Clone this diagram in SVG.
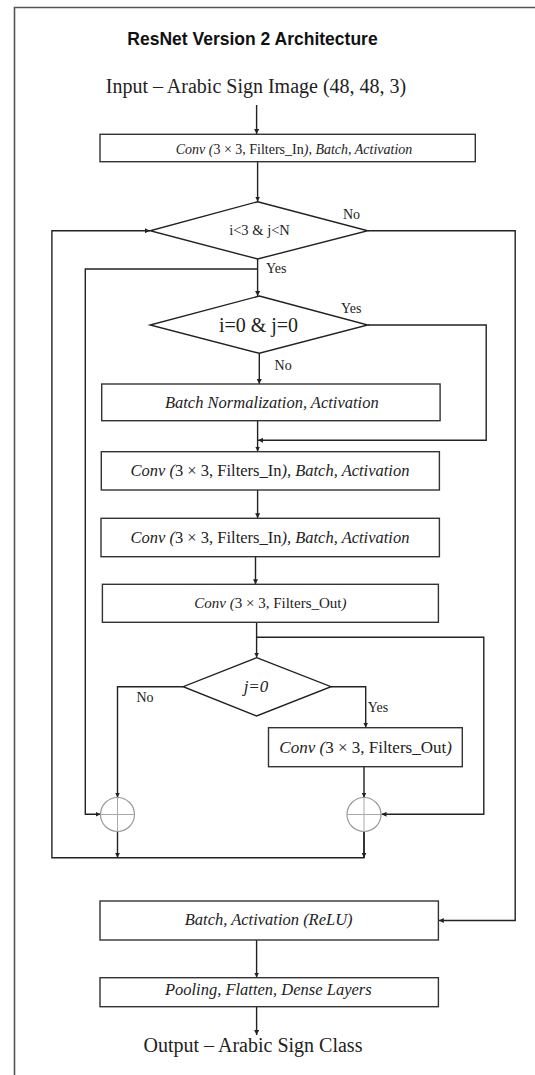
<svg xmlns="http://www.w3.org/2000/svg" width="535" height="1075" viewBox="0 0 535 1075">
<style>
.box{fill:#fff;stroke:#333;stroke-width:1.4}
.dia{fill:#fff;stroke:#222;stroke-width:1.4}
.ln{fill:none;stroke:#222;stroke-width:1.4}
.frame{fill:none;stroke:#555;stroke-width:1.6}
.sum{fill:#fff;stroke:#999;stroke-width:1.2}
.cross{stroke:#aaa;stroke-width:1}
.t{font-family:"Liberation Serif","Times New Roman",serif;fill:#222;text-anchor:middle}
.i{font-style:italic}
.lbl{font-family:"Liberation Serif","Times New Roman",serif;fill:#222;font-size:14px}
</style>
<defs>
<marker id="ah" markerUnits="userSpaceOnUse" markerWidth="6" markerHeight="5" refX="5" refY="2.5" orient="auto">
<path d="M0,0 L5,2.5 L0,5 z" fill="#222"/>
</marker>
</defs>
<rect x="0" y="0" width="535" height="1075" fill="#fff"/>
<path class="frame" d="M14.5,1075 V7.5 H535"/>
<text x="252.5" y="45" font-family="'Liberation Sans',Arial,sans-serif" font-weight="bold" font-size="17.5" fill="#111" text-anchor="middle">ResNet Version 2 Architecture</text>
<text id="input" class="t" x="256" y="93" font-size="20">Input – Arabic Sign Image (48, 48, 3)</text>

<g id="connectors">
<path class="ln" d="M256.6,105 V134" marker-end="url(#ah)"/>
<path class="ln" d="M257.6,161.7 V201.5" marker-end="url(#ah)"/>
<path class="ln" d="M257.6,259 V296" marker-end="url(#ah)"/>
<path class="ln" d="M257.6,269 H85.3 V814.3 H100.5" marker-end="url(#ah)"/>
<path class="ln" d="M367.8,230.7 H515.2 V920.5 H438.8" marker-end="url(#ah)"/>
<path class="ln" d="M364,831.5 V857.7 H51.9 V230.7 H150" marker-end="url(#ah)"/>
<path class="ln" d="M117.5,831.5 V857.7" marker-end="url(#ah)"/>
<path class="ln" d="M364,831.5 V857.7" marker-end="url(#ah)"/>
<path class="ln" d="M259.3,353.3 V384" marker-end="url(#ah)"/>
<path class="ln" d="M367.8,325 H486.2 V440.3 H258" marker-end="url(#ah)"/>
<path class="ln" d="M257.6,421 V451.5" marker-end="url(#ah)"/>
<path class="ln" d="M257.6,490 V518.2" marker-end="url(#ah)"/>
<path class="ln" d="M255.5,556.7 V584.2" marker-end="url(#ah)"/>
<path class="ln" d="M256.6,622.3 V657.5" marker-end="url(#ah)"/>
<path class="ln" d="M256.6,637.3 H483.8 V814.3 H381.5" marker-end="url(#ah)"/>
<path class="ln" d="M183.2,686.7 H117.5 V797.5" marker-end="url(#ah)"/>
<path class="ln" d="M331,686.7 H365.7 V727.5" marker-end="url(#ah)"/>
<path class="ln" d="M364,766.7 V797.5" marker-end="url(#ah)"/>
<path class="ln" d="M256.6,940 V977.5" marker-end="url(#ah)"/>
<path class="ln" d="M256.6,1006.7 V1035" marker-end="url(#ah)"/>
<text class="lbl" x="343" y="219">No</text>
<text class="lbl" x="266" y="272.7">Yes</text>
<text class="lbl" x="341" y="312.7">Yes</text>
<text class="lbl" x="274.6" y="370">No</text>
<text class="lbl" x="136.5" y="701.7">No</text>
<text class="lbl" x="367.8" y="711.7">Yes</text>
</g>

<g id="conv1">
<rect class="box" x="100" y="134.3" width="375.3" height="27.4"/>
<text class="t" x="294" y="154" font-size="14"><tspan class="i">Conv (</tspan>3 × 3, Filters_In<tspan class="i">), Batch, Activation</tspan></text>
</g>
<g id="cond1">
<polygon class="dia" points="257.6,201.7 367.8,230.7 257.6,259 150.1,230.7"/>
<text class="t" x="259.5" y="235" font-size="14.5">i&lt;3 &amp; j&lt;N</text>
</g>
<g id="cond2">
<polygon class="dia" points="259.3,296 367.8,325 259.3,353.3 150.1,325"/>
<text class="t" x="258.5" y="332" font-size="20">i=0 &amp; j=0</text>
</g>
<g id="bn">
<rect class="box" x="101.7" y="384" width="338.4" height="36.7"/>
<text class="t i" x="271.8" y="408" font-size="16.5">Batch Normalization, Activation</text>
</g>
<g id="conv2">
<rect class="box" x="101.3" y="451.7" width="338.1" height="38.3"/>
<text class="t" x="270" y="476" font-size="16.5"><tspan class="i">Conv (</tspan>3 × 3, Filters_In<tspan class="i">), Batch, Activation</tspan></text>
</g>
<g id="conv3">
<rect class="box" x="101" y="518.3" width="338.4" height="38.4"/>
<text class="t" x="270" y="542.7" font-size="16.5"><tspan class="i">Conv (</tspan>3 × 3, Filters_In<tspan class="i">), Batch, Activation</tspan></text>
</g>
<g id="conv4">
<rect class="box" x="102.4" y="584.3" width="336" height="38"/>
<text class="t" x="270.4" y="608.3" font-size="15"><tspan class="i">Conv (</tspan>3 × 3, Filters_Out<tspan class="i">)</tspan></text>
</g>
<g id="cond3">
<polygon class="dia" points="256.6,657.7 331,686.7 256.6,716 183.2,686.7"/>
<text class="t i" x="256" y="692" font-size="17">j=0</text>
</g>
<g id="shortcut">
<rect class="box" x="268.5" y="727.7" width="193.8" height="39"/>
<text class="t" x="365.6" y="752.7" font-size="17"><tspan class="i">Conv (</tspan>3 × 3, Filters_Out<tspan class="i">)</tspan></text>
</g>
<g id="add1">
<circle class="sum" cx="117.5" cy="814.5" r="17"/>
<path class="cross" d="M100.5,814.5 H134.5 M117.5,797.5 V831.5"/>
</g>
<g id="add2">
<circle class="sum" cx="364" cy="814.5" r="17"/>
<path class="cross" d="M347,814.5 H381 M364,797.5 V831.5"/>
</g>
<g id="bnrelu">
<rect class="box" x="100" y="901" width="338.4" height="39"/>
<text class="t i" x="268.7" y="925" font-size="16.5">Batch, Activation (ReLU)</text>
</g>
<g id="head">
<rect class="box" x="100" y="977.7" width="338.4" height="29"/>
<text class="t i" x="268.3" y="995" font-size="16.5">Pooling, Flatten, Dense Layers</text>
</g>
<text id="output" class="t" x="253" y="1051.7" font-size="20">Output – Arabic Sign Class</text>
</svg>
